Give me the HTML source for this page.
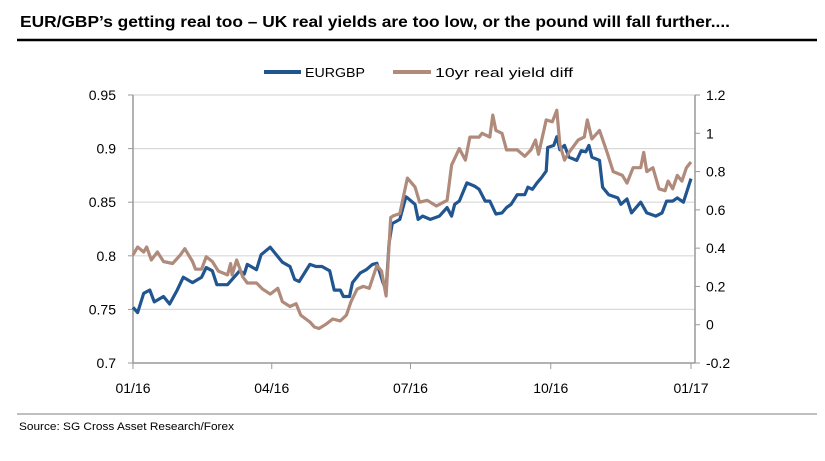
<!DOCTYPE html>
<html><head><meta charset="utf-8"><style>
html,body{margin:0;padding:0;background:#fff;}
svg{display:block;font-family:"Liberation Sans",sans-serif;}
</style></head><body>
<svg id="chart" width="825" height="461" viewBox="0 0 825 461" xmlns="http://www.w3.org/2000/svg">
<text x="20" y="27" font-size="16" font-weight="bold" fill="#000" textLength="710" lengthAdjust="spacingAndGlyphs">EUR/GBP’s getting real too – UK real yields are too low, or the pound will fall further....</text>
<line x1="17" y1="40" x2="817" y2="40" stroke="#000" stroke-width="2.5"/>
<g>
<line x1="264" y1="72" x2="301" y2="72" stroke="#215590" stroke-width="4"/>
<text x="305" y="77" font-size="13" fill="#000" textLength="60" lengthAdjust="spacingAndGlyphs">EURGBP</text>
<line x1="393" y1="72" x2="431" y2="72" stroke="#b08a7a" stroke-width="4"/>
<text x="435" y="77" font-size="13" fill="#000" textLength="138" lengthAdjust="spacingAndGlyphs">10yr real yield diff</text>
</g>
<g id="grid"></g><g id="axes"></g><g id="series"></g>
<line x1="17" y1="414" x2="817" y2="414" stroke="#aaa" stroke-width="1.5"/>
<text x="19" y="430" font-size="11" fill="#000" textLength="215" lengthAdjust="spacingAndGlyphs">Source: SG Cross Asset Research/Forex</text>
</svg>
<script>
const eurDays=[0,3,7,11,14,20,24,29,33,39,45,48,52,55,62,65,70,73,75,81,84,90,94,98,103,106,109,116,120,124,129,132,136,138,142,144,149,153,157,160,164,166,168,170,175,179,180,185,187,190,195,201,206,209,211,214,219,224,227,231,234,238,242,245,248,252,257,259,262,265,268,271,272,276,278,280,283,286,291,294,297,299,301,306,308,312,318,320,324,327,333,337,343,347,350,354,357,361,366];
const eurVals=[.752,.747,.765,.768,.757,.762,.755,.768,.780,.775,.780,.789,.786,.773,.773,.778,.786,.783,.792,.787,.801,.808,.801,.794,.790,.778,.776,.792,.790,.790,.786,.768,.768,.762,.762,.775,.784,.787,.792,.793,.775,.768,.812,.830,.834,.855,.854,.848,.834,.837,.834,.837,.845,.837,.848,.851,.868,.865,.862,.851,.851,.839,.840,.845,.848,.857,.857,.864,.862,.868,.873,.879,.901,.903,.911,.899,.903,.892,.889,.898,.897,.903,.892,.889,.864,.857,.854,.848,.853,.840,.850,.840,.837,.840,.851,.851,.854,.850,.872];
const ydDays=[0,3,7,9,12,16,20,26,31,34,39,41,45,48,52,56,62,64,65,68,72,75,81,85,90,95,98,103,107,110,116,119,122,127,131,136,140,143,147,151,155,160,163,166,169,171,175,180,185,188,193,199,206,209,214,218,221,227,229,234,236,238,242,245,252,257,261,264,266,271,275,278,280,283,286,292,296,298,301,306,311,315,321,324,328,333,335,337,341,345,349,351,354,357,360,363,366];
const ydVals=[.364,.406,.38,.406,.338,.38,.33,.32,.364,.397,.33,.29,.29,.355,.33,.28,.26,.32,.26,.338,.25,.218,.218,.186,.16,.19,.12,.095,.11,.05,.014,-.012,-.02,.005,.03,.02,.05,.12,.186,.2,.19,.31,.28,.15,.56,.57,.58,.766,.72,.64,.65,.62,.65,.834,.92,.86,.98,.98,1.0,.98,1.095,1.015,1.0,.913,.913,.88,.913,.965,.89,1.07,1.06,1.12,.94,.86,.9,.965,.98,1.07,.97,1.015,.9,.8,.78,.74,.82,.82,.9,.8,.82,.71,.7,.75,.71,.78,.75,.82,.85];
const leftTicks=[0.7,0.75,0.8,0.85,0.9,0.95];
const leftTickLabels=["0.7","0.75","0.8","0.85","0.9","0.95"];
const rightTicks=[-0.2,0,0.2,0.4,0.6,0.8,1,1.2];
const rightTickLabels=["-0.2","0","0.2","0.4","0.6","0.8","1","1.2"];
const xTicks=[0,91,182,274,366];
const xTickLabels=["01/16","04/16","07/16","10/16","01/17"];

const NS="http://www.w3.org/2000/svg";
const X0=133,X1=691,YT=95,YB=363;
const x=d=>X0+(d-0)/(366-0)*(X1-X0);
const yL=v=>YB-(v-0.7)/(0.95-0.7)*(YB-YT);
const yR=v=>YB-(v-(-0.2))/(1.2-(-0.2))*(YB-YT);
function mk(tag,attrs,parent){const e=document.createElementNS(NS,tag);for(const k in attrs)e.setAttribute(k,attrs[k]);parent.appendChild(e);return e;}
const grid=document.getElementById('grid'),axes=document.getElementById('axes'),series=document.getElementById('series');
leftTicks.forEach((t,i)=>{
  const yy=yL(t);
  if(i>0){const g=mk('line',{x1:X0,y1:yy,x2:695,y2:yy,stroke:'#d9d9d9','stroke-width':1.2},grid);
  
  }
  const tk=mk('line',{x1:128,y1:yy,x2:X0,y2:yy,stroke:'#999','stroke-width':1},axes);
  
  
  const tx=mk('text',{x:116,y:yy+5,'font-size':14,'text-anchor':'end',fill:'#000'},axes);
  tx.textContent=leftTickLabels[i];
  
  
});
rightTicks.forEach((t,i)=>{
  const yy=yR(t);
  const tk=mk('line',{x1:695,y1:yy,x2:700,y2:yy,stroke:'#999','stroke-width':1},axes);
  
  
  const tx=mk('text',{x:706,y:yy+5,'font-size':14,fill:'#000'},axes);
  tx.textContent=rightTickLabels[i];
  
  
});
xTicks.forEach((d,i)=>{
  const xx=x(d);
  const tk=mk('line',{x1:xx,y1:YB,x2:xx,y2:YB+6,stroke:'#999','stroke-width':1},axes);
  
  
  const tx=mk('text',{x:xx,y:393,'font-size':14,'text-anchor':'middle',fill:'#000'},axes);
  tx.textContent=xTickLabels[i];
  
  
});
const la=mk('line',{x1:X0,y1:YT,x2:X0,y2:YB,stroke:'#999','stroke-width':1.5},axes);


const ra=mk('line',{x1:695,y1:YT,x2:695,y2:YB,stroke:'#999','stroke-width':1.5},axes);


const ba=mk('line',{x1:X0,y1:YB,x2:695,y2:YB,stroke:'#999','stroke-width':1.5},axes);


const pEur=eurDays.map((d,i)=>x(d).toFixed(1)+','+yL(eurVals[i]).toFixed(1)).join(' ');
const l1=mk('polyline',{points:pEur,fill:'none',stroke:'#215590','stroke-width':3.2,'stroke-linejoin':'round'},series);


const pYd=ydDays.map((d,i)=>x(d).toFixed(1)+','+yR(ydVals[i]).toFixed(1)).join(' ');
const l2=mk('polyline',{points:pYd,fill:'none',stroke:'#b08a7a','stroke-width':3.2,'stroke-linejoin':'round'},series);


</script>
</body></html>
